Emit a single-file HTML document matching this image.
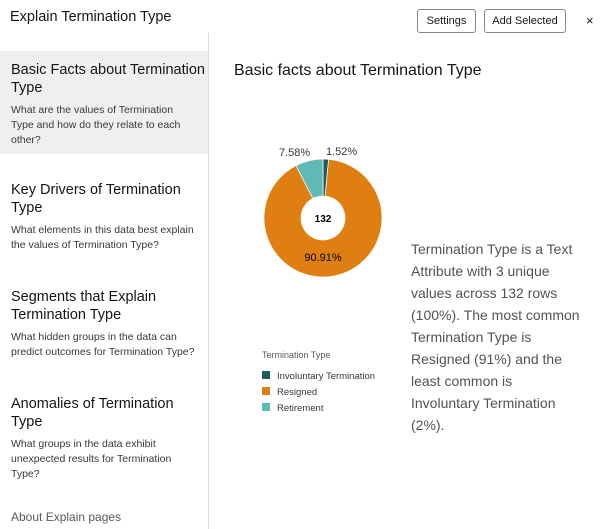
<!DOCTYPE html>
<html><head><style>
body{margin:0;width:600px;height:529px;background:#fff;font-family:"Liberation Sans",sans-serif;color:#161513;position:relative;overflow:hidden}
.a{position:absolute}
.btn{position:absolute;top:9px;height:22px;border:1px solid #8a8785;border-radius:3px;font-size:11px;line-height:22px;text-align:center;color:#161513}
h3{margin:0;font-weight:normal;font-size:14.5px;line-height:18px;color:#161513;white-space:nowrap}
p{margin:6px 0 0;font-size:10.5px;line-height:15px;color:#3a3836;white-space:nowrap}
</style></head><body>
<div class="a" style="left:10px;top:9px;font-size:14.5px">Explain Termination Type</div>
<div class="btn" style="left:417px;width:57px">Settings</div>
<div class="btn" style="left:484px;width:80px">Add Selected</div>
<div class="a" style="left:586px;top:13px;font-size:13px">×</div>
<div class="a" style="left:208px;top:33px;width:1px;height:496px;background:#dcdad8"></div>
<div class="a" style="left:0;top:51px;width:208px;height:103px;background:#f1efed"></div>
<div class="a" style="left:11px;top:61px"><h3>Basic Facts about Termination<br>Type</h3><p>What are the values of Termination<br>Type and how do they relate to each<br>other?</p></div>
<div class="a" style="left:11px;top:181px"><h3>Key Drivers of Termination<br>Type</h3><p>What elements in this data best explain<br>the values of Termination Type?</p></div>
<div class="a" style="left:11px;top:288px"><h3>Segments that Explain<br>Termination Type</h3><p>What hidden groups in the data can<br>predict outcomes for Termination Type?</p></div>
<div class="a" style="left:11px;top:395px"><h3>Anomalies of Termination<br>Type</h3><p>What groups in the data exhibit<br>unexpected results for Termination<br>Type?</p></div>
<div class="a" style="left:11px;top:510px;font-size:12px;color:#5a5856">About Explain pages</div>
<div class="a" style="left:234px;top:62px;font-size:16px">Basic facts about Termination Type</div>
<svg class="a" style="left:0;top:0" width="600" height="529">
<path d="M323,159 A59,59 0 0 1 328.62,159.27 L325.10,196.10 A22,22 0 0 0 323,196 Z" fill="#1f5a5e" stroke="#fff" stroke-width="0.7"/>
<path d="M328.62,159.27 A59,59 0 1 1 295.94,165.57 L312.91,198.45 A22,22 0 1 0 325.10,196.10 Z" fill="#df7f11" stroke="#fff" stroke-width="0.7"/>
<path d="M295.94,165.57 A59,59 0 0 1 323,159 L323,196 A22,22 0 0 0 312.91,198.45 Z" fill="#5fbab5" stroke="#fff" stroke-width="0.7"/>
<text x="323" y="222" font-size="10" font-weight="bold" text-anchor="middle" font-family="Liberation Sans">132</text>
<text x="323" y="261" font-size="11" text-anchor="middle" font-family="Liberation Sans">90.91%</text>
<text x="279" y="156" font-size="11" font-family="Liberation Sans" fill="#3a3836">7.58%</text>
<text x="326" y="155" font-size="11" font-family="Liberation Sans" fill="#3a3836">1.52%</text>
<text x="262" y="358" font-size="9" font-family="Liberation Sans" fill="#5a5856">Termination Type</text>
<rect x="262" y="371" width="8" height="8" fill="#1f5a5e"/>
<rect x="262" y="387" width="8" height="8" fill="#df7f11"/>
<rect x="262" y="403" width="8" height="8" fill="#5fbab5"/>
<text x="277" y="379" font-size="9.5" font-family="Liberation Sans" fill="#3a3836">Involuntary Termination</text>
<text x="277" y="395" font-size="9.5" font-family="Liberation Sans" fill="#3a3836">Resigned</text>
<text x="277" y="411" font-size="9.5" font-family="Liberation Sans" fill="#3a3836">Retirement</text>
</svg>
<div class="a" style="left:411px;top:238px;font-size:14px;line-height:22px;color:#55524f;white-space:nowrap">Termination Type is a Text<br>Attribute with 3 unique<br>values across 132 rows<br>(100%). The most common<br>Termination Type is<br>Resigned (91%) and the<br>least common is<br>Involuntary Termination<br>(2%).</div>
</body></html>
